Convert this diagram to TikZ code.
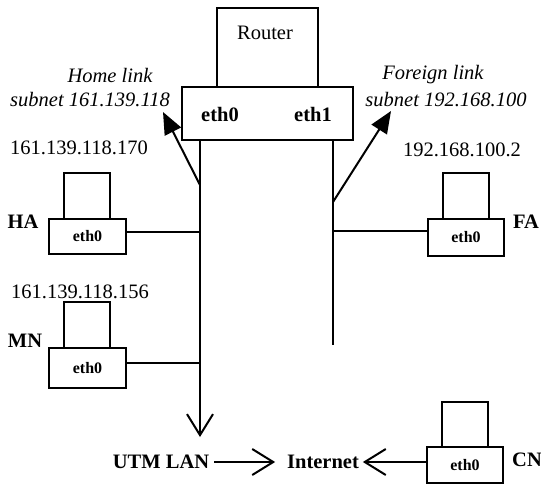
\documentclass[tikz,border=0pt]{standalone}
\usepackage{fontspec}
\setmainfont{Liberation Serif}
\usetikzlibrary{arrows.meta,calc}
\begin{document}
\begin{tikzpicture}[x=1pt,y=-1pt,
  every node/.style={inner sep=0pt,outer sep=0pt},
  wire/.style={line width=2pt},
  box/.style={draw,line width=2pt,rectangle},
  lbl/.style={font=\fontsize{20.5}{24}\selectfont},
  blbl/.style={font=\fontsize{20.5}{24}\selectfont\bfseries},
  ilbl/.style={font=\fontsize{20.5}{24}\selectfont\itshape},
  pctext/.style={font=\fontsize{16}{18}\selectfont\bfseries},
  screen/.style={box,minimum width=46pt,minimum height=46pt},
  pcbase/.style={box,minimum width=77pt,minimum height=37pt},
  linkarrow/.style={wire,-{Triangle[length=22pt,width=18pt]}},
  vee/.style={wire,-{Straight Barb[length=21pt,width=26pt]}},
]
\useasboundingbox (0,0) rectangle (541,483);

% router: upper body and interface panel
\node[box,minimum width=101pt,minimum height=79pt] (router) at (267.5,47.5) {};
\node[lbl] (routertxt) at (265,33) {Router};
\node[box,minimum width=171pt,minimum height=53pt] (rif) at (267.5,113.5) {};
\node[blbl] (reth0) at (220,114) {eth0};
\node[blbl] (reth1) at (313,114) {eth1};

% bus end points and taps
\coordinate (lanend) at (200,437);
\coordinate (busRend) at (333,345);
\coordinate (homejoin) at (200,185);
\coordinate (foreignjoin) at (333,202);
\coordinate (hajoin) at (200,232);
\coordinate (mnjoin) at (200,363);
\coordinate (fajoin) at (333,231);
\coordinate (hometip) at (163,112);
\coordinate (foreigntip) at (391,111);

% link labels
\node[ilbl] (homel1) at (110,75) {Home link};
\node[ilbl] (homel2) at (90,100) {subnet 161.139.118};
\node[ilbl] (forl1) at (433,75) {Foreign link};
\node[ilbl] (forl2) at (446,100) {subnet 192.168.100};

% addresses
\node[lbl] (haaddr) at (79,148) {161.139.118.170};
\node[lbl] (faaddr) at (462,150) {192.168.100.2};
\node[lbl] (mnaddr) at (80,292) {161.139.118.156};

% home agent
\node[screen] (has) at (87,196) {};
\node[pcbase,minimum height=35pt] (hab) at (87.5,236.5) {};
\node[pctext] at (hab) {eth0};
\node[blbl] (halbl) at (23,222) {HA};

% mobile node
\node[screen] (mns) at (87,325) {};
\node[pcbase,minimum height=40pt] (mnb) at (87.5,368) {};
\node[pctext] at (mnb) {eth0};
\node[blbl] (mnlbl) at (25,341) {MN};

% foreign agent
\node[screen] (fas) at (466,196) {};
\node[pcbase,minimum width=76pt] (fab) at (466,237.5) {};
\node[pctext] at (fab) {eth0};
\node[blbl] (falbl) at (526,222) {FA};

% correspondent node
\node[screen,minimum height=45pt] (cns) at (465,424.5) {};
\node[pcbase,minimum width=76pt,minimum height=36pt] (cnb) at (465,465) {};
\node[pctext] at (cnb) {eth0};
\node[blbl] (cnlbl) at (527,460) {CN};

% bottom row
\node[blbl] (utm) at (161,462) {UTM LAN};
\node[blbl] (inet) at (323,462) {Internet};

% the two subnets
\draw[vee] (rif.south -| lanend) -- (lanend);
\draw[wire] (rif.south -| busRend) -- (busRend);
\draw[linkarrow] (homejoin) -- (hometip);
\draw[linkarrow] (foreignjoin) -- (foreigntip);

% hosts on the buses
\draw[wire] (hab.east |- hajoin) -- (hajoin);
\draw[wire] (mnb.east |- mnjoin) -- (mnjoin);
\draw[wire] (fajoin) -- (fab.west |- fajoin);

% to the Internet
\draw[vee,shorten <=5pt,shorten >=12pt] (utm.east) -- (inet.west);
\draw[vee,shorten >=4pt] (cnb.west |- inet) -- (inet.east);
\end{tikzpicture}
\end{document}
